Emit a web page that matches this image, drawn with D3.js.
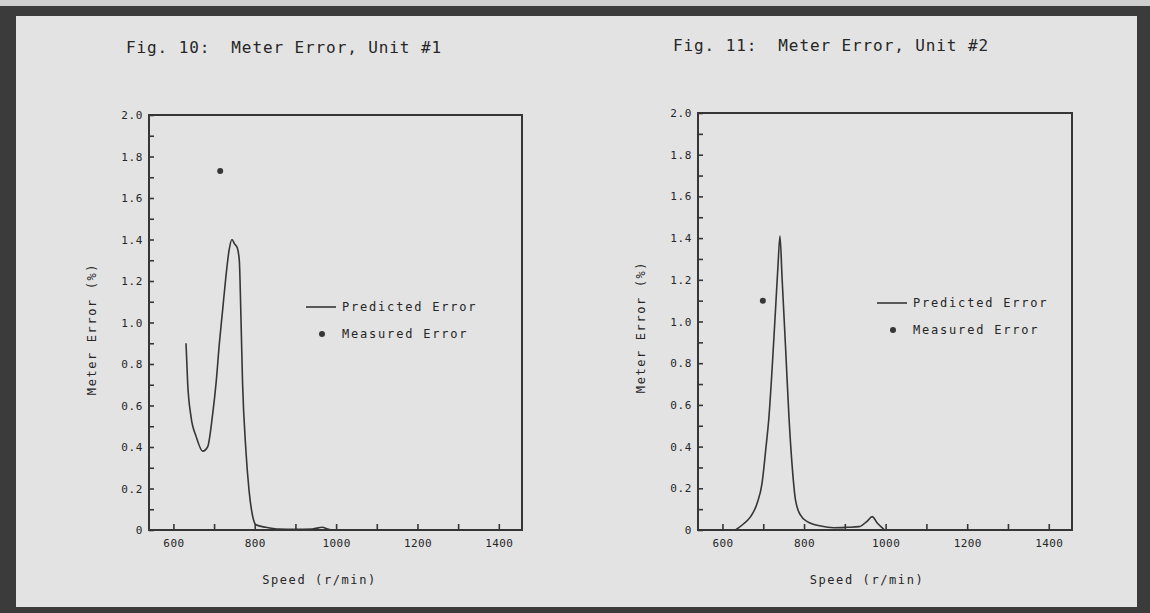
<!DOCTYPE html>
<html>
<head>
<meta charset="utf-8">
<script src="https://cdn.jsdelivr.net/npm/d3@7/dist/d3.min.js"></script>
<style>
  html, body { margin: 0; padding: 0; background: #3b3b3b; }
  svg { display: block; }
  text { font-family: "DejaVu Sans Mono", "Liberation Mono", monospace; fill: #262626; white-space: pre; }
</style>
</head>
<body>
<svg id="chart" width="1150" height="613"></svg>
<script>
// ---- Data: meter error vs. shaft speed ----
const fig10Speed = [631, 635, 643, 656, 672, 684, 696, 705, 713, 721, 729, 737, 744, 750, 757, 762, 766, 770, 778, 786, 795, 803, 827, 860, 896, 942, 966, 979, 991];
const fig10Error = [0.90, 0.71, 0.55, 0.45, 0.38, 0.40, 0.55, 0.71, 0.90, 1.06, 1.22, 1.35, 1.40, 1.38, 1.36, 1.30, 1.03, 0.71, 0.39, 0.19, 0.065, 0.025, 0.013, 0.004, 0.003, 0.005, 0.013, 0.005, 0.0];
const fig10MeasuredSpeed = [715];
const fig10MeasuredError = [1.73];

const fig11Speed = [632, 652, 669, 685, 697, 706, 714, 722, 730, 736, 741, 746, 755, 763, 771, 779, 791, 808, 841, 873, 906, 935, 955, 967, 980, 996];
const fig11Error = [0.0, 0.03, 0.064, 0.128, 0.224, 0.384, 0.543, 0.783, 1.055, 1.263, 1.41, 1.215, 0.863, 0.543, 0.304, 0.144, 0.072, 0.04, 0.019, 0.011, 0.013, 0.016, 0.043, 0.064, 0.032, 0.003];
const fig11MeasuredSpeed = [699];
const fig11MeasuredError = [1.10];

const titles = ["Fig. 10:  Meter Error, Unit #1", "Fig. 11:  Meter Error, Unit #2"];
const legendLabels = ["Predicted Error", "Measured Error"];
const xAxisTitle = "Speed (r/min)";
const yAxisTitle = "Meter Error (%)";
const xTickValues = [600, 700, 800, 900, 1000, 1100, 1200, 1300, 1400];
const xLabelValues = [600, 800, 1000, 1200, 1400];
const yTickValues = d3.range(0, 21).map(i => i / 10);
const yLabelValues = d3.range(0, 11).map(i => i / 5);
const xDomain = [540, 1457];
const yDomain = [0, 2];

// ---- Page frame ----
const svg = d3.select("#chart");
svg.append("rect").attr("x", 0).attr("y", 0).attr("width", 1150).attr("height", 6).attr("fill", "#cfcfcf");
svg.append("rect").attr("x", 16).attr("y", 16).attr("width", 1121).attr("height", 591).attr("fill", "#e3e3e3");

const ink = "#363636";

function drawPanel(cfg) {
  const g = svg.append("g");
  const x = d3.scaleLinear().domain(xDomain).range([cfg.left, cfg.right]);
  const y = d3.scaleLinear().domain(yDomain).range([cfg.bottom, cfg.top]);

  // title
  g.append("text")
    .attr("x", cfg.titleX).attr("y", cfg.titleY)
    .attr("text-anchor", "middle")
    .attr("xml:space", "preserve")
    .style("font-size", "16px").style("letter-spacing", "0.9px")
    .text(cfg.title);

  // plot frame
  g.append("rect")
    .attr("x", cfg.left).attr("y", cfg.top)
    .attr("width", cfg.right - cfg.left).attr("height", cfg.bottom - cfg.top)
    .attr("fill", "none").attr("stroke", ink).attr("stroke-width", 2);

  // x axis: inward ticks every 100, labels every 200
  const xAxis = d3.axisBottom(x).tickValues(xTickValues).tickSizeInner(-6).tickSizeOuter(0)
    .tickFormat(d => xLabelValues.includes(d) ? d : "");
  const gx = g.append("g").attr("transform", `translate(0,${cfg.bottom})`).call(xAxis);
  gx.select(".domain").remove();
  gx.selectAll(".tick line").attr("stroke", ink).attr("stroke-width", 1.6);
  gx.selectAll(".tick text").attr("dy", "0").attr("y", 17)
    .style("font-size", "11px").style("letter-spacing", "0.4px").attr("fill", ink);

  // y axis: inward ticks every 0.1, labels every 0.2
  const yAxis = d3.axisLeft(y).tickValues(yTickValues).tickSizeInner(-5).tickSizeOuter(0)
    .tickFormat(d => {
      const isLabel = yLabelValues.some(v => Math.abs(v - d) < 1e-9);
      if (!isLabel) return "";
      return d === 0 ? "0" : d.toFixed(1);
    });
  const gy = g.append("g").attr("transform", `translate(${cfg.left},0)`).call(yAxis);
  gy.select(".domain").remove();
  gy.selectAll(".tick line").attr("stroke", ink).attr("stroke-width", 1.6);
  gy.selectAll(".tick text").attr("x", -6)
    .style("font-size", "11px").style("letter-spacing", "0.6px").attr("fill", ink);

  // axis titles
  g.append("text")
    .attr("x", (cfg.left + cfg.right) / 2 + cfg.xTitleShift).attr("y", 584)
    .attr("text-anchor", "middle")
    .style("font-size", "12px").style("letter-spacing", "1.6px")
    .text(xAxisTitle);
  g.append("text")
    .attr("transform", `translate(${cfg.yTitleX},${cfg.yTitleY}) rotate(-90)`)
    .attr("text-anchor", "middle")
    .style("font-size", "12px").style("letter-spacing", "1.6px")
    .text(yAxisTitle);

  // predicted curve
  const pts = cfg.speed.map((s, i) => [s, cfg.error[i]]);
  const line = d3.line().x(d => x(d[0])).y(d => y(d[1])).curve(cfg.curve);
  g.append("path").attr("d", line(pts))
    .attr("fill", "none").attr("stroke", ink).attr("stroke-width", 1.6)
    .attr("stroke-linejoin", "round");

  // measured point(s)
  g.selectAll(".measured").data(cfg.mSpeed.map((s, i) => [s, cfg.mError[i]]))
    .join("circle").attr("class", "measured")
    .attr("cx", d => x(d[0])).attr("cy", d => y(d[1])).attr("r", 3)
    .attr("fill", ink);

  // legend
  const lg = g.append("g").attr("transform", `translate(${cfg.legendX},${cfg.legendY})`);
  lg.append("line").attr("x1", 0).attr("x2", 30).attr("y1", 0).attr("y2", 0)
    .attr("stroke", ink).attr("stroke-width", 1.6);
  lg.append("text").attr("x", 36).attr("y", 4).style("font-size", "12px").style("letter-spacing", "1.8px")
    .text(legendLabels[0]);
  lg.append("circle").attr("cx", 16).attr("cy", 27).attr("r", 3).attr("fill", ink);
  lg.append("text").attr("x", 36).attr("y", 31).style("font-size", "12px").style("letter-spacing", "1.8px")
    .text(legendLabels[1]);
}

drawPanel({
  title: titles[0], titleX: 284, titleY: 53,
  left: 149, right: 522, top: 115, bottom: 530,
  xTitleShift: -16, yTitleX: 96, yTitleY: 329,
  speed: fig10Speed, error: fig10Error, mSpeed: fig10MeasuredSpeed, mError: fig10MeasuredError,
  curve: d3.curveMonotoneX, legendX: 306, legendY: 307
});

drawPanel({
  title: titles[1], titleX: 831, titleY: 51,
  left: 698, right: 1072, top: 113, bottom: 530,
  xTitleShift: -18, yTitleX: 645, yTitleY: 327,
  speed: fig11Speed, error: fig11Error, mSpeed: fig11MeasuredSpeed, mError: fig11MeasuredError,
  curve: d3.curveMonotoneX, legendX: 877, legendY: 303
});
</script>
</body>
</html>
